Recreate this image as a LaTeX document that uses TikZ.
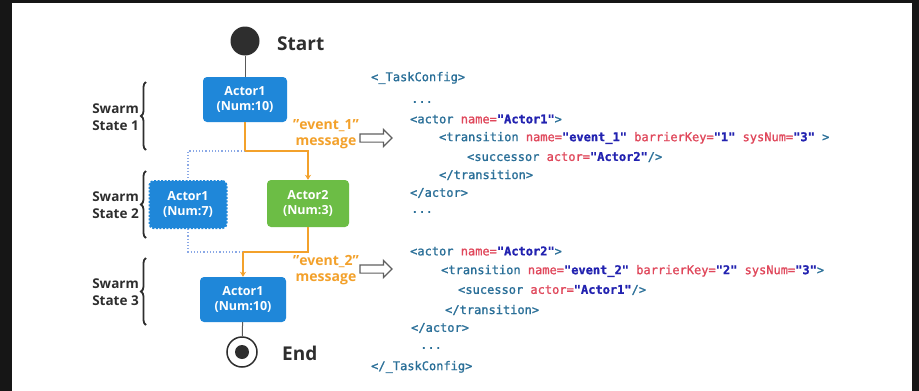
\documentclass[tikz,border=0pt]{standalone}
\usepackage{fontspec}
\setmainfont{Open Sans}
\newfontfamily\codefont[FakeBold=1.2]{DejaVu Sans Mono}
\usetikzlibrary{arrows.meta,shapes.arrows,decorations.pathreplacing}

\definecolor{framedark}{HTML}{161616}
\definecolor{boxblue}{HTML}{1F87D9}
\definecolor{boxgreen}{HTML}{6CBD45}
\definecolor{evorange}{HTML}{F3A12B}
\definecolor{linkblue}{HTML}{8AA8E6}
\definecolor{tagcol}{HTML}{2A6F98}
\definecolor{attrcol}{HTML}{E0475B}
\definecolor{valcol}{HTML}{2222B0}
\definecolor{inkgray}{HTML}{2E2E2E}

% XML syntax colouring
\newcommand\xtag[1]{\textcolor{tagcol}{#1}}
\newcommand\xatt[1]{\textcolor{attrcol}{#1}}
\newcommand\xval[1]{\textcolor{valcol}{\bfseries #1}}

\tikzset{
  actorbox/.style={rounded corners=4pt, fill=boxblue, text=white,
    font=\bfseries\fontsize{12.5}{15}\selectfont, align=center, inner sep=0pt},
  statelabel/.style={font=\bfseries\fontsize{13.5}{17}\selectfont, text=inkgray,
    align=left, anchor=east, inner sep=0pt},
  statebrace/.style={decorate, decoration={brace, amplitude=5pt},
    draw=inkgray, line width=1.8pt},
  eventlabel/.style={font=\bfseries\fontsize{14}{16}\selectfont, text=evorange,
    align=center, inner sep=0pt},
  flow/.style={draw=evorange, line width=2.2pt},
  flowtip/.style={flow, -{Stealth[length=5pt,width=6pt]}},
  altlink/.style={draw=linkblue, line width=1.2pt, dotted},
  plainlink/.style={draw=gray!70!black, line width=1pt},
  bigtext/.style={font=\bfseries\fontsize{19}{22}\selectfont, text=inkgray,
    anchor=west, inner sep=0pt},
  hollowarrow/.style={single arrow, draw=gray!75!black, line width=1.2pt,
    minimum height=32pt, inner xsep=0pt, inner ysep=3.5pt,
    single arrow head extend=4.5pt, single arrow head indent=0pt},
  code/.style={font=\codefont\fontsize{12}{14}\selectfont, anchor=west, inner sep=0pt}
}

\begin{document}
\begin{tikzpicture}[x=1pt, y=-1pt]
  % frame and canvas
  \fill[framedark] (0,0) rectangle (919,391);
  \fill[white] (12,3) rectangle (912,391);
  \useasboundingbox (0,0) rectangle (919,391);

  % initial and final states
  \node[circle, fill=inkgray, minimum size=29pt, inner sep=0pt] (start) at (245,41) {};
  \node[bigtext] (startlbl) at (277,44) {Start};
  \node[circle, draw=inkgray, line width=1.5pt, minimum size=30pt, inner sep=0pt] (endn) at (242,352) {};
  \node[circle, fill=inkgray, minimum size=14pt, inner sep=0pt] (enddot) at (endn.center) {};
  \node[bigtext] (endlbl) at (282,353) {End};

  % actor states
  \node[actorbox, minimum width=84pt, minimum height=45pt] (a1) at (245,99.5) {Actor1\\(Num:10)};
  \node[actorbox, minimum width=77pt, minimum height=47pt, draw=boxblue,
        line width=2pt, dashed, dash pattern=on 2pt off 1.5pt] (a1b) at (188,204.5) {Actor1\\(Num:7)};
  \node[actorbox, fill=boxgreen, minimum width=82pt, minimum height=47pt] (a2) at (308,203.5) {Actor2\\(Num:3)};
  \node[actorbox, minimum width=86pt, minimum height=45pt] (a3) at (243,299.5) {Actor1\\(Num:10)};

  % junctions of the transitions
  \coordinate (j1) at (245,151);
  \coordinate (j2) at (243,252);

  \draw[plainlink] (start) -- (a1);
  \draw[plainlink] (a3) -- (endn);

  \draw[altlink] (j1) -| (a1b.north);
  \draw[altlink] (a1b.south) |- (j2);
  \draw[flow] (a1.south) -- (j1);
  \draw[flowtip] (j1) -| (a2.north);
  \draw[flow] (a2.south) |- (j2);
  \draw[flowtip] (j2) -- (a3.north);

  % event messages
  \node[eventlabel] (ev1) at (326,134) {"event\_1"\\message};
  \node[eventlabel] (ev2) at (326,270) {"event\_2"\\message};
  \node[hollowarrow] (ar1) at (374,138) {};
  \node[hollowarrow] (ar2) at (374,269) {};

  % swarm states
  \coordinate (b1t) at (146,82);  \coordinate (b1b) at (146,150);
  \coordinate (b2t) at (146,171); \coordinate (b2b) at (146,238);
  \coordinate (b3t) at (146,258); \coordinate (b3b) at (146,325);
  \draw[statebrace] (b1b) -- (b1t);
  \draw[statebrace] (b2b) -- (b2t);
  \draw[statebrace] (b3b) -- (b3t);
  \node[statelabel] (s1) at (139,117) {Swarm\\State 1};
  \node[statelabel] (s2) at (139,205) {Swarm\\State 2};
  \node[statelabel] (s3) at (139,292) {Swarm\\State 3};

  % task configuration listing
  \node[code] (c1)  at (371,78)  {\xtag{<\_TaskConfig>}};
  \node[code] (c2)  at (411,102) {\xtag{...}};
  \node[code] (c3)  at (410,119) {\xtag{<actor} \xatt{name=}\xval{"Actor1"}\xtag{>}};
  \node[code] (c4)  at (439,138) {\xtag{<transition} \xatt{name=}\xval{"event\_1"} \xatt{barrierKey=}\xval{"1"} \xatt{sysNum=}\xval{"3"} \xtag{>}};
  \node[code] (c5)  at (467,157) {\xtag{<successor} \xatt{actor=}\xval{"Actor2"}\xtag{/>}};
  \node[code] (c6)  at (439,175) {\xtag{</transition>}};
  \node[code] (c7)  at (410,193) {\xtag{</actor>}};
  \node[code] (c8)  at (411,212) {\xtag{...}};
  \node[code] (c9)  at (410,251) {\xtag{<actor} \xatt{name=}\xval{"Actor2"}\xtag{>}};
  \node[code] (c10) at (441,271) {\xtag{<transition} \xatt{name=}\xval{"event\_2"} \xatt{barrierKey=}\xval{"2"} \xatt{sysNum=}\xval{"3"}\xtag{>}};
  \node[code] (c11) at (458,290) {\xtag{<sucessor} \xatt{actor=}\xval{"Actor1"}\xtag{/>}};
  \node[code] (c12) at (445,310) {\xtag{</transition>}};
  \node[code] (c13) at (411,328) {\xtag{</actor>}};
  \node[code] (c14) at (420,348) {\xtag{...}};
  \node[code] (c15) at (371,367) {\xtag{</\_TaskConfig>}};
\end{tikzpicture}
\end{document}
